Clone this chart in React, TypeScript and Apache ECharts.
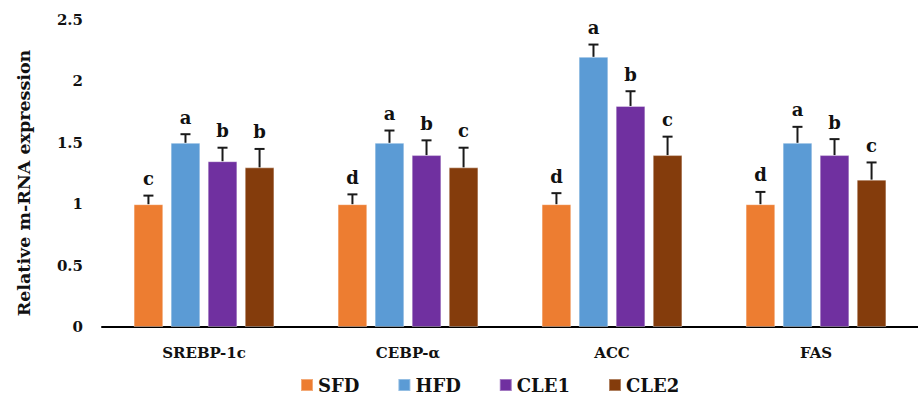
import React, { useEffect, useRef } from "react";
import * as echarts from "echarts";

const categories = ["SREBP-1c", "CEBP-α", "ACC", "FAS"];
const seriesNames = ["SFD", "HFD", "CLE1", "CLE2"];
const colors = ["#ED7D31", "#5B9BD5", "#7030A0", "#843C0C"];
const SFD = [1, 1, 1, 1];
const HFD = [1.5, 1.5, 2.2, 1.5];
const CLE1 = [1.35, 1.4, 1.8, 1.4];
const CLE2 = [1.3, 1.3, 1.4, 1.2];
const errSFD = [0.07, 0.08, 0.09, 0.1];
const errHFD = [0.07, 0.1, 0.1, 0.13];
const errCLE1 = [0.11, 0.12, 0.12, 0.13];
const errCLE2 = [0.15, 0.16, 0.15, 0.14];
const letSFD = ["c", "d", "d", "d"];
const letHFD = ["a", "a", "a", "a"];
const letCLE1 = ["b", "b", "b", "b"];
const letCLE2 = ["b", "c", "c", "c"];
const yTicks = [0, 0.5, 1, 1.5, 2, 2.5];
const yTitle = "Relative m-RNA expression";

const values = [SFD, HFD, CLE1, CLE2];
const errs = [errSFD, errHFD, errCLE1, errCLE2];
const lets = [letSFD, letHFD, letCLE1, letCLE2];

const FONT = "DejaVu Serif";
const CAT_GAP = 0.31;
const BAR_GAP = 0.25;

export default function App() {
  const ref = useRef<HTMLDivElement>(null);
  useEffect(() => {
    const chart = echarts.init(ref.current!, null, { renderer: "svg" });
    const errData: any[] = [];
    values.forEach((vals, s) => {
      vals.forEach((v, c) => {
        errData.push([c, v, s, errs[s][c], lets[s][c]]);
      });
    });
    const option: any = {
      animation: false,
      grid: { left: 102, right: -1, top: 20, bottom: 69 },
      graphic: [
        {
          type: "text",
          x: 24,
          y: 183,
          rotation: Math.PI / 2,
          style: {
            text: yTitle,
            textAlign: "center",
            textVerticalAlign: "middle",
            fontFamily: FONT,
            fontWeight: "bold",
            fontSize: 17.5,
            fill: "#111",
          },
        },
      ],
      legend: {
        data: seriesNames,
        left: 295,
        top: 371,
        itemWidth: 12,
        itemHeight: 12,
        itemGap: 38,
        icon: "rect",
        textStyle: { fontFamily: FONT, fontWeight: "bold", fontSize: 18, color: "#111" },
      },
      xAxis: {
        type: "category",
        data: categories,
        axisLine: { lineStyle: { color: "#000", width: 2 } },
        axisTick: { show: false },
        axisLabel: { fontFamily: FONT, fontWeight: "bold", fontSize: 15, color: "#111", margin: 18 },
      },
      yAxis: {
        type: "value",
        min: 0,
        max: 2.5,
        interval: 0.5,
        axisLine: { show: false },
        axisTick: { show: false },
        splitLine: { show: false },
        axisLabel: {
          fontFamily: FONT,
          fontWeight: "bold",
          fontSize: 15,
          color: "#111",
          margin: 19,
          formatter: (v: number) => (yTicks.includes(v) ? String(v) : ""),
        },
      },
      series: [
        ...seriesNames.map((n, i) => ({
          name: n,
          type: "bar",
          data: values[i],
          barGap: BAR_GAP * 100 + "%",
          barCategoryGap: CAT_GAP * 100 + "%",
          itemStyle: { color: colors[i], borderColor: "rgba(255,255,255,0.35)", borderWidth: 1 },
        })),
        {
          type: "custom",
          data: errData,
          z: 10,
          renderItem: (params: any, api: any) => {
            const c = api.value(0);
            const v = api.value(1);
            const s = api.value(2);
            const e = api.value(3);
            const letter = errData[params.dataIndex][4];
            const catW = api.size([1, 0])[0];
            const bw = (catW * (1 - CAT_GAP)) / (4 + 3 * BAR_GAP);
            const off = (s - 1.5) * bw * (1 + BAR_GAP);
            const base = api.coord([c, v]);
            const top = api.coord([c, v + e]);
            const x = base[0] + off;
            const style = { stroke: "#1a1a1a", lineWidth: 2 };
            return {
              type: "group",
              children: [
                { type: "line", shape: { x1: x, y1: base[1], x2: x, y2: top[1] }, style },
                { type: "line", shape: { x1: x - 5, y1: top[1], x2: x + 5, y2: top[1] }, style },
                {
                  type: "text",
                  style: {
                    text: letter,
                    x: x,
                    y: top[1] - 8,
                    textAlign: "center",
                    textVerticalAlign: "bottom",
                    fontFamily: FONT,
                    fontWeight: "bold",
                    fontSize: 18,
                    fill: "#111",
                  },
                },
              ],
            };
          },
        },
      ],
    };
    chart.setOption(option);
    return () => chart.dispose();
  }, []);
  return <div ref={ref} style={{ width: 918, height: 396, position: "absolute", left: 0, top: 0 }} />;
}
